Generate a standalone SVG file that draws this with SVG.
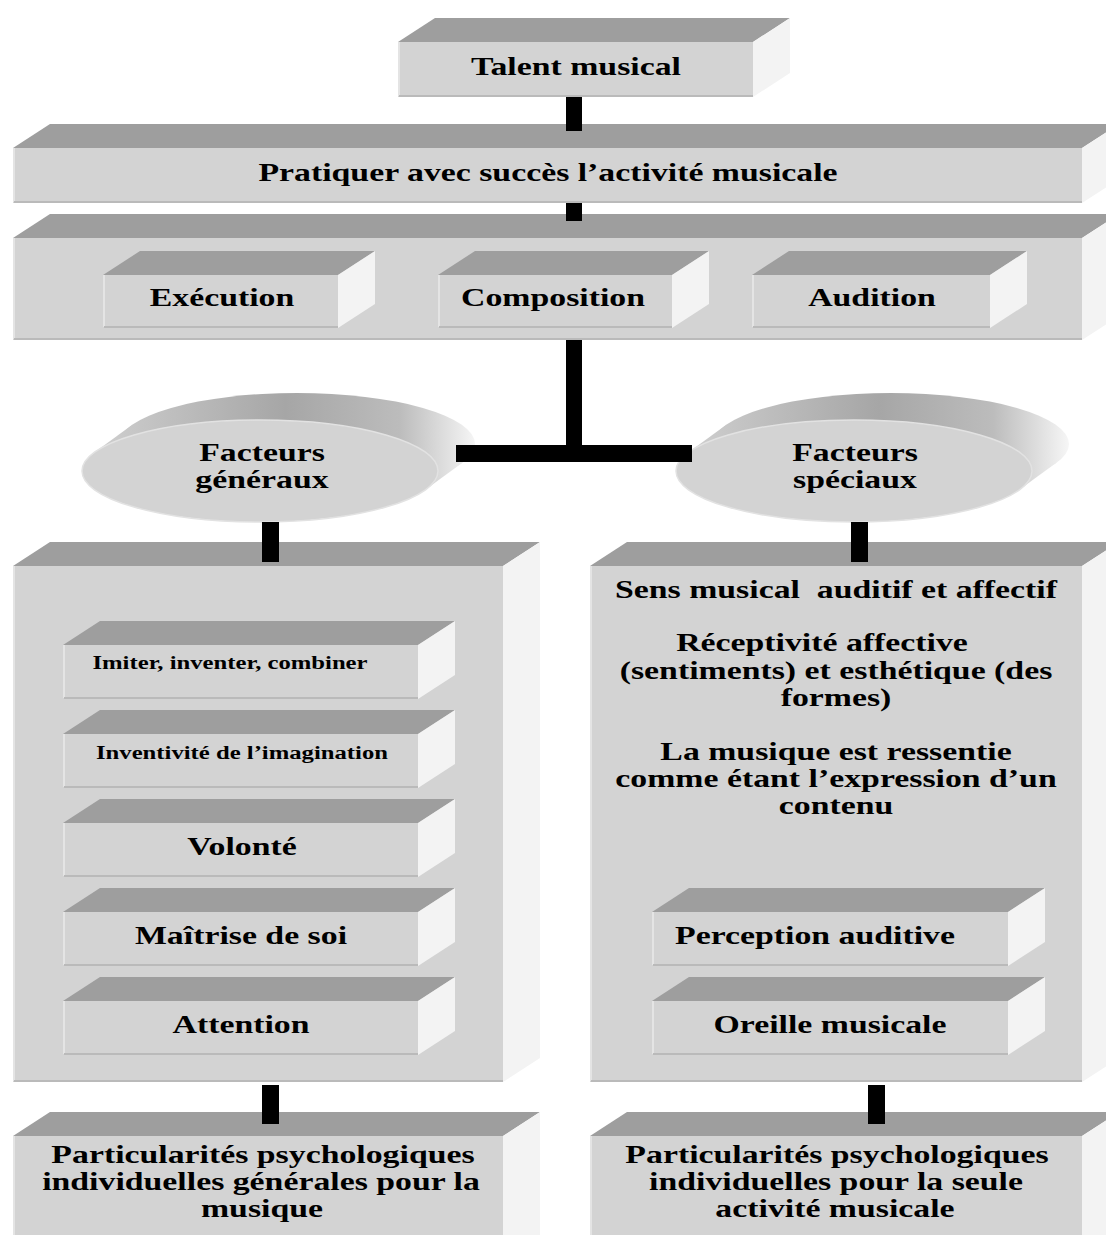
<svg xmlns="http://www.w3.org/2000/svg" width="1106" height="1235" viewBox="0 0 1106 1235">
<style>
.top{fill:#9e9e9e}
.front{fill:#d3d3d3}
.side{fill:#f3f3f3}
.el{stroke:#e4e4e4;stroke-width:2;fill:none}
.eb{stroke:#bababa;stroke-width:2;fill:none}
.t{font-family:"Liberation Serif","Times New Roman",serif;font-weight:bold;font-size:26px;fill:#000;text-anchor:middle}
.s{font-size:19px}
.bar{fill:#000}
.ef{fill:#d3d3d3;stroke:#e2e2e2;stroke-width:1.5}
</style>
<defs>
<linearGradient id="rimL" gradientUnits="userSpaceOnUse" x1="95" y1="0" x2="476" y2="0">
<stop offset="0" stop-color="#cfcfcf"/>
<stop offset="0.5" stop-color="#a6a6a6"/>
<stop offset="0.8" stop-color="#bcbcbc"/>
<stop offset="1" stop-color="#f6f6f6"/>
</linearGradient>
<linearGradient id="rimR" gradientUnits="userSpaceOnUse" x1="688" y1="0" x2="1069" y2="0">
<stop offset="0" stop-color="#cfcfcf"/>
<stop offset="0.5" stop-color="#a6a6a6"/>
<stop offset="0.8" stop-color="#bcbcbc"/>
<stop offset="1" stop-color="#f6f6f6"/>
</linearGradient>
</defs>
<rect width="1106" height="1235" fill="#fff"/>

<g id="talent">
<path class="top" d="M398,42 l37,-24 h355 l-37,24 z"/>
<path class="side" d="M753,42 l37,-24 v55 l-37,24 z"/>
<rect class="front" x="398" y="42" width="355" height="55"/>
<path class="el" d="M399,42 v54"/><path class="eb" d="M399,96 h354"/>
<text class="t" transform="translate(576,75) scale(1.3,1)">Talent musical</text>
</g>

<g id="pratiquer">
<path class="top" d="M13,148 l37,-24 h1069 l-37,24 z"/>
<path class="side" d="M1082,148 l37,-24 v55 l-37,24 z"/>
<rect class="front" x="13" y="148" width="1069" height="55"/>
<path class="el" d="M14,148 v54"/><path class="eb" d="M14,202 h1068"/>
<text class="t" transform="translate(548,181) scale(1.3,1)">Pratiquer avec succès l’activité musicale</text>
</g>

<g id="activites">
<path class="top" d="M13,238 l37,-24 h1069 l-37,24 z"/>
<path class="side" d="M1082,238 l37,-24 v102 l-37,24 z"/>
<rect class="front" x="13" y="238" width="1069" height="102"/>
<path class="el" d="M14,238 v101"/><path class="eb" d="M14,339 h1068"/>
</g>

<g id="execution">
<path class="top" d="M103,275 l37,-24 h235 l-37,24 z"/>
<path class="side" d="M338,275 l37,-24 v53 l-37,24 z"/>
<rect class="front" x="103" y="275" width="235" height="53"/>
<path class="el" d="M104,275 v52"/><path class="eb" d="M104,327 h234"/>
<text class="t" transform="translate(222,306) scale(1.3,1)">Exécution</text>
</g>

<g id="composition">
<path class="top" d="M438,275 l37,-24 h234 l-37,24 z"/>
<path class="side" d="M672,275 l37,-24 v53 l-37,24 z"/>
<rect class="front" x="438" y="275" width="234" height="53"/>
<path class="el" d="M439,275 v52"/><path class="eb" d="M439,327 h233"/>
<text class="t" transform="translate(553,306) scale(1.3,1)">Composition</text>
</g>

<g id="audition">
<path class="top" d="M752,275 l37,-24 h238 l-37,24 z"/>
<path class="side" d="M990,275 l37,-24 v53 l-37,24 z"/>
<rect class="front" x="752" y="275" width="238" height="53"/>
<path class="el" d="M753,275 v52"/><path class="eb" d="M753,327 h237"/>
<text class="t" transform="translate(872,306) scale(1.3,1)">Audition</text>
</g>

<g id="facteurs-generaux">
<ellipse cx="297" cy="444" rx="178" ry="51" fill="url(#rimL)"/>
<path d="M94.3,452.4 L131.3,425.4 L462.7,462.6 L425.7,489.6 Z" fill="url(#rimL)"/>
<ellipse class="ef" cx="260" cy="471" rx="178" ry="51"/>
<text class="t" transform="translate(262,461) scale(1.3,1)">Facteurs</text>
<text class="t" transform="translate(262,488) scale(1.3,1)">généraux</text>
</g>

<g id="facteurs-speciaux">
<ellipse cx="891" cy="444" rx="178" ry="51" fill="url(#rimR)"/>
<path d="M688.3,452.4 L725.3,425.4 L1056.7,462.6 L1019.7,489.6 Z" fill="url(#rimR)"/>
<ellipse class="ef" cx="854" cy="471" rx="178" ry="51"/>
<text class="t" transform="translate(855,461) scale(1.3,1)">Facteurs</text>
<text class="t" transform="translate(855,488) scale(1.3,1)">spéciaux</text>
</g>

<g id="generaux-box">
<path class="top" d="M13,566 l37,-24 h490 l-37,24 z"/>
<path class="side" d="M503,566 l37,-24 v516 l-37,24 z"/>
<rect class="front" x="13" y="566" width="490" height="516"/>
<path class="el" d="M14,566 v515"/><path class="eb" d="M14,1081 h489"/>
</g>

<g id="imiter">
<path class="top" d="M63,645 l37,-24 h355 l-37,24 z"/>
<path class="side" d="M418,645 l37,-24 v54 l-37,24 z"/>
<rect class="front" x="63" y="645" width="355" height="54"/>
<path class="el" d="M64,645 v53"/><path class="eb" d="M64,698 h354"/>
<text class="t s" transform="translate(230,669) scale(1.3,1)">Imiter, inventer, combiner</text>
</g>

<g id="inventivite">
<path class="top" d="M63,734 l37,-24 h355 l-37,24 z"/>
<path class="side" d="M418,734 l37,-24 v54 l-37,24 z"/>
<rect class="front" x="63" y="734" width="355" height="54"/>
<path class="el" d="M64,734 v53"/><path class="eb" d="M64,787 h354"/>
<text class="t s" transform="translate(242,759) scale(1.3,1)">Inventivité de l’imagination</text>
</g>

<g id="volonte">
<path class="top" d="M63,823 l37,-24 h355 l-37,24 z"/>
<path class="side" d="M418,823 l37,-24 v54 l-37,24 z"/>
<rect class="front" x="63" y="823" width="355" height="54"/>
<path class="el" d="M64,823 v53"/><path class="eb" d="M64,876 h354"/>
<text class="t" transform="translate(242,855) scale(1.3,1)">Volonté</text>
</g>

<g id="maitrise">
<path class="top" d="M63,912 l37,-24 h355 l-37,24 z"/>
<path class="side" d="M418,912 l37,-24 v54 l-37,24 z"/>
<rect class="front" x="63" y="912" width="355" height="54"/>
<path class="el" d="M64,912 v53"/><path class="eb" d="M64,965 h354"/>
<text class="t" transform="translate(241,944) scale(1.3,1)">Maîtrise de soi</text>
</g>

<g id="attention">
<path class="top" d="M63,1001 l37,-24 h355 l-37,24 z"/>
<path class="side" d="M418,1001 l37,-24 v54 l-37,24 z"/>
<rect class="front" x="63" y="1001" width="355" height="54"/>
<path class="el" d="M64,1001 v53"/><path class="eb" d="M64,1054 h354"/>
<text class="t" transform="translate(241,1033) scale(1.3,1)">Attention</text>
</g>

<g id="speciaux-box">
<path class="top" d="M590,566 l37,-24 h492 l-37,24 z"/>
<path class="side" d="M1082,566 l37,-24 v516 l-37,24 z"/>
<rect class="front" x="590" y="566" width="492" height="516"/>
<path class="el" d="M591,566 v515"/><path class="eb" d="M591,1081 h491"/>
<text class="t" transform="translate(836,598) scale(1.3,1)">Sens musical&#160; auditif et affectif</text>
<text class="t" transform="translate(822,651) scale(1.3,1)">Réceptivité affective</text>
<text class="t" transform="translate(836,679) scale(1.3,1)">(sentiments) et esthétique (des</text>
<text class="t" transform="translate(836,706) scale(1.3,1)">formes)</text>
<text class="t" transform="translate(836,760) scale(1.3,1)">La musique est ressentie</text>
<text class="t" transform="translate(836,787) scale(1.3,1)">comme étant l’expression d’un</text>
<text class="t" transform="translate(836,814) scale(1.3,1)">contenu</text>
</g>

<g id="perception">
<path class="top" d="M652,912 l37,-24 h356 l-37,24 z"/>
<path class="side" d="M1008,912 l37,-24 v54 l-37,24 z"/>
<rect class="front" x="652" y="912" width="356" height="54"/>
<path class="el" d="M653,912 v53"/><path class="eb" d="M653,965 h355"/>
<text class="t" transform="translate(815,944) scale(1.3,1)">Perception auditive</text>
</g>

<g id="oreille">
<path class="top" d="M652,1001 l37,-24 h356 l-37,24 z"/>
<path class="side" d="M1008,1001 l37,-24 v54 l-37,24 z"/>
<rect class="front" x="652" y="1001" width="356" height="54"/>
<path class="el" d="M653,1001 v53"/><path class="eb" d="M653,1054 h355"/>
<text class="t" transform="translate(830,1033) scale(1.3,1)">Oreille musicale</text>
</g>

<g id="particularites-generales">
<path class="top" d="M13,1136 l37,-24 h490 l-37,24 z"/>
<path class="side" d="M503,1136 l37,-24 v130 l-37,24 z"/>
<rect class="front" x="13" y="1136" width="490" height="110"/>
<path class="el" d="M14,1136 v110"/>
<text class="t" transform="translate(263,1163) scale(1.3,1)">Particularités psychologiques</text>
<text class="t" transform="translate(261,1190) scale(1.3,1)">individuelles générales pour la</text>
<text class="t" transform="translate(262,1217) scale(1.3,1)">musique</text>
</g>

<g id="particularites-speciales">
<path class="top" d="M590,1136 l37,-24 h492 l-37,24 z"/>
<path class="side" d="M1082,1136 l37,-24 v130 l-37,24 z"/>
<rect class="front" x="590" y="1136" width="492" height="110"/>
<path class="el" d="M591,1136 v110"/>
<text class="t" transform="translate(837,1163) scale(1.3,1)">Particularités psychologiques</text>
<text class="t" transform="translate(836,1190) scale(1.3,1)">individuelles pour la seule</text>
<text class="t" transform="translate(835,1217) scale(1.3,1)">activité musicale</text>
</g>

<g id="connectors">
<rect class="bar" x="566" y="97" width="16" height="34"/>
<rect class="bar" x="566" y="203" width="16" height="18"/>
<rect class="bar" x="566" y="340" width="16" height="107"/>
<rect class="bar" x="456" y="445" width="236" height="17"/>
<rect class="bar" x="262" y="522" width="17" height="40"/>
<rect class="bar" x="851" y="522" width="17" height="40"/>
<rect class="bar" x="262" y="1085" width="17" height="39"/>
<rect class="bar" x="868" y="1085" width="17" height="39"/>
</g>
</svg>
